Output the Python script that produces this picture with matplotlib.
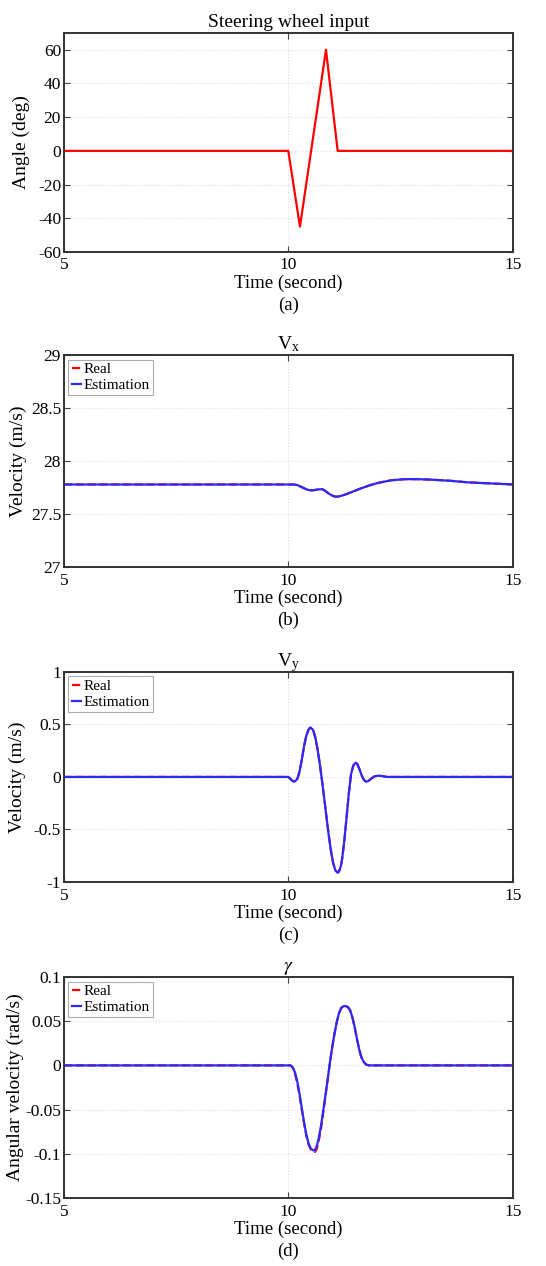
import matplotlib
matplotlib.use("Agg")
import matplotlib.pyplot as plt

plt.rcParams['font.family'] = ['Liberation Serif', 'DejaVu Serif']
plt.rcParams['mathtext.fontset'] = 'stix'

# ---- data ----
# (a) steering wheel input
t_steer = [5, 10.0, 10.26, 10.84, 11.1, 15]
angle = [0, 0, -45, 60, 0, 0]

# (b) longitudinal velocity Vx
t_vx = [5, 10.1, 10.2, 10.3, 10.4, 10.48, 10.55, 10.62, 10.7, 10.76, 10.82, 10.9,
        10.98, 11.05, 11.1, 11.2, 11.3, 11.45, 11.6, 11.8, 12.0, 12.3, 12.6, 12.9,
        13.2, 13.6, 14.0, 14.5, 15]
vx_est = [27.78, 27.78, 27.775, 27.755, 27.735, 27.725, 27.725, 27.73, 27.735, 27.735,
          27.72, 27.695, 27.675, 27.665, 27.665, 27.675, 27.69, 27.715, 27.74, 27.77,
          27.795, 27.82, 27.83, 27.83, 27.825, 27.815, 27.80, 27.79, 27.78]
vx_real = vx_est

# (c) lateral velocity Vy
t_vy = [5, 10.0, 10.05, 10.1, 10.14, 10.2, 10.25, 10.3, 10.35, 10.4, 10.45, 10.49,
        10.55, 10.6, 10.65, 10.7, 10.75, 10.8, 10.85, 10.9, 10.95, 11.0, 11.05, 11.1,
        11.13, 11.17, 11.2, 11.25, 11.3, 11.35, 11.4, 11.45, 11.5, 11.53, 11.58, 11.63,
        11.68, 11.73, 11.78, 11.85, 11.92, 12.0, 12.1, 12.2, 12.4, 15]
vy_est = [0, 0, -0.02, -0.04, -0.045, -0.02, 0.05, 0.16, 0.29, 0.39, 0.45, 0.47,
          0.45, 0.38, 0.27, 0.13, -0.03, -0.2, -0.38, -0.55, -0.70, -0.82, -0.89, -0.91,
          -0.90, -0.85, -0.78, -0.60, -0.38, -0.15, 0.03, 0.11, 0.135, 0.13, 0.08, 0.02,
          -0.025, -0.045, -0.04, -0.015, 0.005, 0.012, 0.008, 0.0, 0.0, 0.0]
vy_real = vy_est

# (d) yaw rate gamma
t_r = [5, 10.05, 10.1, 10.15, 10.2, 10.25, 10.3, 10.35, 10.4, 10.45, 10.5, 10.55,
       10.59, 10.63, 10.68, 10.73, 10.78, 10.83, 10.88, 10.93, 10.98, 11.03, 11.08,
       11.13, 11.18, 11.23, 11.28, 11.33, 11.38, 11.43, 11.48, 11.53, 11.58, 11.63,
       11.68, 11.73, 11.8, 11.85, 15]
r_est = [0, 0, -0.002, -0.008, -0.018, -0.032, -0.048, -0.064, -0.078, -0.088, -0.094,
         -0.096, -0.096, -0.092, -0.082, -0.068, -0.051, -0.033, -0.015, 0.004, 0.021,
         0.036, 0.049, 0.059, 0.065, 0.067, 0.067, 0.066, 0.062, 0.054, 0.043, 0.030,
         0.018, 0.009, 0.004, 0.001, 0.0, 0.0, 0.0]
r_real = [0, 0, -0.003, -0.010, -0.020, -0.034, -0.050, -0.065, -0.079, -0.089, -0.095,
          -0.097, -0.098, -0.095, -0.085, -0.071, -0.053, -0.034, -0.015, 0.004, 0.021,
          0.036, 0.049, 0.059, 0.065, 0.067, 0.067, 0.066, 0.062, 0.054, 0.043, 0.030,
          0.018, 0.009, 0.004, 0.001, 0.0, 0.0, 0.0]

x_ticks = [5, 10, 15]
# ------------------------------------

fig = plt.figure(figsize=(5.46, 12.66), dpi=100)
boxes = [[0.117, 0.801, 0.822, 0.173],
         [0.117, 0.552, 0.822, 0.1675],
         [0.117, 0.3033, 0.822, 0.166],
         [0.117, 0.0537, 0.822, 0.1746]]
axes = [fig.add_axes(b) for b in boxes]


def style(ax, title, ylabel, ylim, yticks, yticklabels, tag, ypad=3):
    ax.set_xlim(5, 15)
    ax.set_ylim(*ylim)
    ax.set_xticks(x_ticks)
    ax.set_yticks(yticks)
    ax.set_yticklabels(yticklabels)
    ax.tick_params(direction='in', top=True, right=True, labelsize=12.5, length=4,
                   color='#444444')
    ax.tick_params(axis='y', pad=2)
    ax.tick_params(axis='x', pad=4)
    ax.grid(True, color='#dddddd', linestyle=':', linewidth=0.8)
    for s in ax.spines.values():
        s.set_color('#333333')
        s.set_linewidth(1.4)
    ax.set_title(title, fontsize=14, pad=4)
    ax.set_ylabel(ylabel, fontsize=14, labelpad=ypad)
    ax.set_xlabel('Time (second)\n(' + tag + ')', fontsize=13.5, labelpad=1, linespacing=1.35)


ax = axes[0]
ax.plot(t_steer, angle, color='#ff0000', lw=1.6)
style(ax, 'Steering wheel input', 'Angle (deg)', (-60, 70),
      [-60, -40, -20, 0, 20, 40, 60], ['-60', '-40', '-20', '0', '20', '40', '60'], 'a', 6)

panels = [
    (axes[1], t_vx, vx_real, vx_est, r'V$_\mathregular{x}$', 'Velocity (m/s)', (27, 29),
     [27, 27.5, 28, 28.5, 29], ['27', '27.5', '28', '28.5', '29'], 'b', 3),
    (axes[2], t_vy, vy_real, vy_est, r'V$_\mathregular{y}$', 'Velocity (m/s)', (-1, 1),
     [-1, -0.5, 0, 0.5, 1], ['-1', '-0.5', '0', '0.5', '1'], 'c', 6),
    (axes[3], t_r, r_real, r_est, r'$\gamma$', 'Angular velocity (rad/s)', (-0.15, 0.1),
     [-0.15, -0.1, -0.05, 0, 0.05, 0.1], ['-0.15', '-0.1', '-0.05', '0', '0.05', '0.1'], 'd', 1),
]

for ax, t, real, est, title, ylab, ylim, yt, ytl, tag, ypad in panels:
    ax.plot(t, real, color='#ff0000', lw=1.6, linestyle='--', label='Real')
    ax.plot(t, est, color='#2a2aff', lw=1.6, label='Estimation')
    style(ax, title, ylab, ylim, yt, ytl, tag, ypad)
    leg = ax.legend(loc='upper left', fontsize=11, handlelength=0.6, handletextpad=0.2,
                    borderpad=0.2, labelspacing=0.15, fancybox=False, borderaxespad=0.3)
    leg.get_frame().set_edgecolor('#999999')
    leg.get_frame().set_linewidth(0.8)

fig.savefig('out.png', dpi=100)
